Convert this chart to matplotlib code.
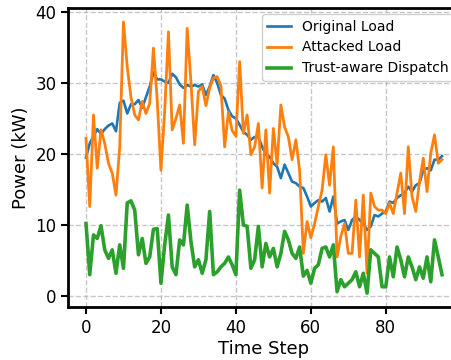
import matplotlib
matplotlib.use("Agg")
import matplotlib.pyplot as plt
import numpy as np

time_steps = list(range(96))

original_load = [
    19.5, 21.5, 22.5, 23.5, 22.8, 23.5, 24.0, 24.3, 23.2, 27.2,
    27.5, 25.7, 27.0, 27.0, 27.6, 26.5, 28.0, 29.5, 31.5, 30.5,
    30.5, 30.2, 30.0, 31.3, 30.8, 29.8, 29.3, 29.7, 29.5, 29.7,
    29.5, 29.8, 28.3, 29.5, 31.1, 30.0, 28.3, 27.8, 26.2, 25.3,
    25.0, 24.1, 23.1, 22.7, 22.0, 22.4, 22.4, 21.0, 19.9, 19.6,
    18.7, 18.2, 16.6, 18.5, 17.3, 16.1, 15.9, 15.4, 15.2, 14.0,
    12.6, 13.1, 13.5, 13.3, 13.8, 11.9, 14.0, 10.2, 10.5, 10.7,
    9.3, 10.7, 11.2, 10.7, 10.2, 9.3, 9.8, 11.4, 11.2, 11.6,
    11.9, 13.3, 13.1, 13.8, 14.2, 14.5, 15.4, 14.7, 15.6, 15.9,
    17.7, 18.0, 17.7, 19.2, 19.2, 19.7,
]

attacked_load = [
    22.2, 12.6, 25.5, 18.0, 23.4, 21.5, 18.7, 17.3, 14.2, 21.0,
    38.6, 32.3, 28.0, 25.5, 24.8, 27.4, 25.7, 27.1, 34.9, 27.6,
    17.7, 26.0, 37.2, 23.4, 25.0, 26.9, 21.5, 37.7, 30.2, 21.3,
    28.8, 29.5, 26.8, 29.3, 30.7, 30.9, 29.6, 21.0, 25.9, 23.3,
    22.5, 33.0, 22.9, 25.5, 19.9, 21.0, 24.3, 15.2, 23.4, 14.5,
    23.6, 18.5, 26.9, 23.8, 22.4, 19.2, 22.0, 17.7, 6.0, 10.5,
    8.2, 10.2, 12.6, 14.9, 19.9, 15.6, 21.0, 5.5, 8.4, 10.2,
    6.0, 6.0, 13.5, 5.5, 14.2, 3.2, 14.5, 12.6, 12.1, 12.1,
    11.6, 13.1, 11.6, 14.5, 17.3, 11.6, 21.0, 14.0, 11.9, 16.1,
    19.4, 14.7, 20.1, 22.7, 18.7, 19.2,
]

trust_dispatch = [
    10.2, 3.0, 8.6, 8.1, 9.9, 6.5, 5.3, 6.5, 3.2, 7.2,
    3.9, 13.1, 13.4, 12.1, 5.8, 8.1, 4.6, 5.5, 9.4, 9.5,
    1.8, 7.2, 11.4, 4.1, 3.0, 7.9, 7.2, 12.8, 7.7, 4.1,
    5.1, 3.2, 5.1, 11.9, 3.0, 3.4, 4.1, 4.6, 5.5, 4.4,
    3.0, 14.9, 10.0, 9.8, 3.9, 5.1, 9.8, 4.1, 7.4, 5.5,
    6.7, 4.1, 6.0, 9.1, 7.9, 6.0, 5.3, 6.9, 2.8, 3.6,
    1.8, 3.9, 4.4, 6.7, 6.9, 5.5, 7.2, 0.6, 2.3, 1.3,
    1.8, 2.3, 3.4, 1.3, 3.2, 0.4, 6.5, 6.0, 5.5, 1.3,
    1.3, 5.5, 2.7, 6.9, 5.1, 2.7, 5.5, 4.1, 2.3, 4.1,
    2.5, 5.5, 2.0, 7.9, 5.5, 3.0,
]

fig = plt.figure(figsize=(4.51, 3.60), dpi=100)
ax = fig.add_axes([68.2 / 451, 53 / 360, 391.6 / 451, 298.6 / 360])

ax.plot(time_steps, original_load, color="#1f77b4", lw=1.9, label="Original Load")
ax.plot(time_steps, attacked_load, color="#ff7f0e", lw=2.0, label="Attacked Load")
ax.plot(time_steps, trust_dispatch, color="#2ca02c", lw=2.6, label="Trust-aware Dispatch")

ax.set_xlim(-4.75, 99.75)
ax.set_ylim(-1.55, 40.5)
ax.set_xticks([0, 20, 40, 60, 80])
ax.set_yticks([0, 10, 20, 30, 40])
ax.tick_params(labelsize=12, width=1.5, length=5)
ax.grid(True, linestyle="--", color="#b0b0b0", alpha=0.7, linewidth=1)
for s in ax.spines.values():
    s.set_linewidth(2)
ax.spines["right"].set_visible(False)

ax.set_xlabel("Time Step", fontsize=13, labelpad=2)
ax.set_ylabel("Power (kW)", fontsize=13)
leg = ax.legend(loc="upper right", fontsize=10, handlelength=1.7,
                borderaxespad=0.4, labelspacing=0.5, framealpha=0.9)
leg.get_frame().set_linewidth(1)

fig.savefig("out.png", dpi=100)
